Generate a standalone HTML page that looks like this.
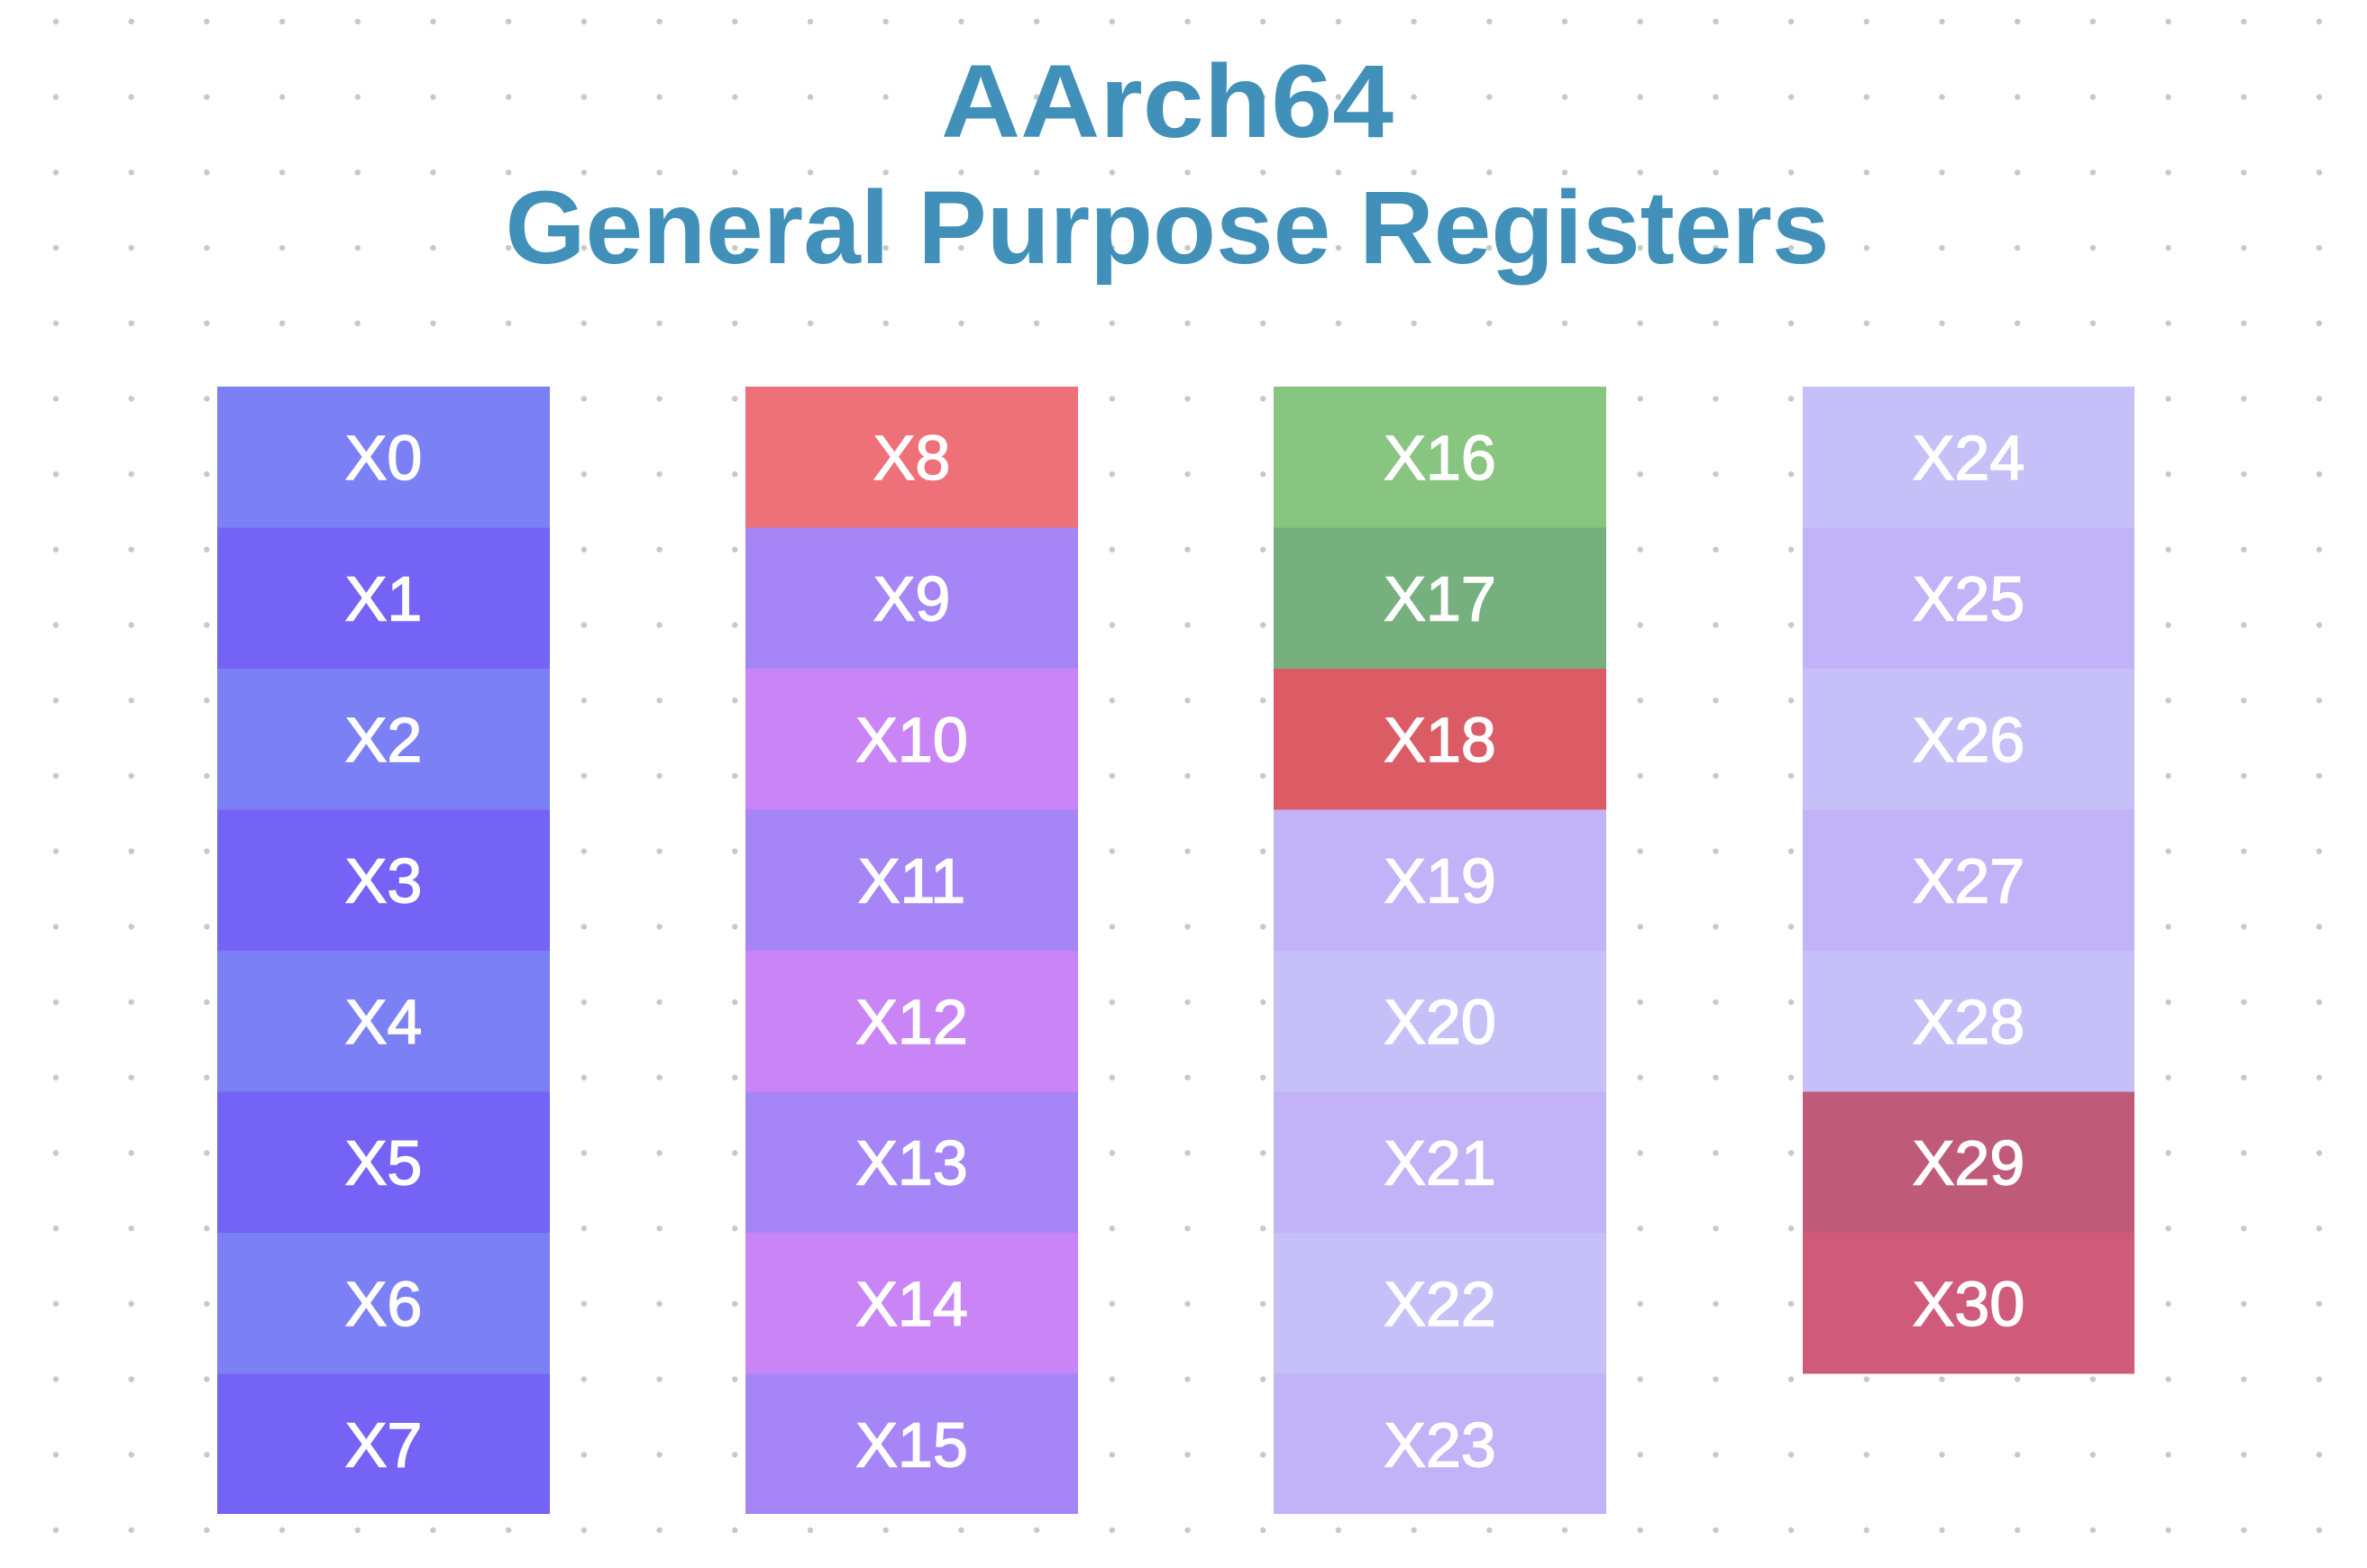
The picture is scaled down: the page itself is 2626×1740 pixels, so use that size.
<!DOCTYPE html>
<html><head><meta charset="utf-8"><style>
html,body{margin:0;padding:0;background:#fff;}
svg{display:block;}
</style></head><body>
<svg width="2626" height="1740" viewBox="0 0 2626 1740" xmlns="http://www.w3.org/2000/svg">
<defs>
<pattern id="dots" x="0" y="0" width="83.7" height="83.7" patternUnits="userSpaceOnUse" patternTransform="translate(62 24)">
<circle cx="0" cy="0" r="3.2" fill="#c8c8c8"/>
<circle cx="83.7" cy="0" r="3.2" fill="#c8c8c8"/>
<circle cx="0" cy="83.7" r="3.2" fill="#c8c8c8"/>
<circle cx="83.7" cy="83.7" r="3.2" fill="#c8c8c8"/>
</pattern>
</defs>
<rect width="2626" height="1740" fill="url(#dots)"/>
<g font-family="Liberation Sans, sans-serif" font-weight="bold" fill="#4190b9" text-anchor="middle">
<text x="1295" y="152" font-size="115" textLength="502" lengthAdjust="spacingAndGlyphs">AArch64</text>
<text x="1295" y="292" font-size="115" textLength="1469" lengthAdjust="spacingAndGlyphs">General Purpose Registers</text>
</g>
<g>
<rect x="241" y="429" width="369" height="157" fill="#7b80f4"/>
<rect x="241" y="585.5" width="369" height="157" fill="#7463f4"/>
<rect x="241" y="742" width="369" height="157" fill="#7b80f4"/>
<rect x="241" y="898.5" width="369" height="157" fill="#7463f4"/>
<rect x="241" y="1055" width="369" height="157" fill="#7b80f4"/>
<rect x="241" y="1211.5" width="369" height="157" fill="#7463f4"/>
<rect x="241" y="1368" width="369" height="157" fill="#7b80f4"/>
<rect x="241" y="1524.5" width="369" height="155.5" fill="#7463f4"/>
</g>
<g>
<rect x="827" y="429" width="369" height="157" fill="#ee717a"/>
<rect x="827" y="585.5" width="369" height="157" fill="#a685f7"/>
<rect x="827" y="742" width="369" height="157" fill="#c985f6"/>
<rect x="827" y="898.5" width="369" height="157" fill="#a685f7"/>
<rect x="827" y="1055" width="369" height="157" fill="#c985f6"/>
<rect x="827" y="1211.5" width="369" height="157" fill="#a685f7"/>
<rect x="827" y="1368" width="369" height="157" fill="#c985f6"/>
<rect x="827" y="1524.5" width="369" height="155.5" fill="#a685f7"/>
</g>
<g>
<rect x="1413" y="429" width="369" height="157" fill="#88c580"/>
<rect x="1413" y="585.5" width="369" height="157" fill="#77b07f"/>
<rect x="1413" y="742" width="369" height="157" fill="#dc5c66"/>
<rect x="1413" y="898.5" width="369" height="157" fill="#c2b2f7"/>
<rect x="1413" y="1055" width="369" height="157" fill="#c6c0f9"/>
<rect x="1413" y="1211.5" width="369" height="157" fill="#c2b2f7"/>
<rect x="1413" y="1368" width="369" height="157" fill="#c6c0f9"/>
<rect x="1413" y="1524.5" width="369" height="155.5" fill="#c2b2f7"/>
</g>
<g>
<rect x="2000" y="429" width="368" height="157" fill="#c6c0f9"/>
<rect x="2000" y="585.5" width="368" height="157" fill="#c2b2f7"/>
<rect x="2000" y="742" width="368" height="157" fill="#c6c0f9"/>
<rect x="2000" y="898.5" width="368" height="157" fill="#c2b2f7"/>
<rect x="2000" y="1055" width="368" height="157" fill="#c6c0f9"/>
<rect x="2000" y="1211.5" width="368" height="157" fill="#bf5b79"/>
<rect x="2000" y="1368" width="368" height="156.5" fill="#d05a79"/>
</g>
<g font-family="Liberation Sans, sans-serif" font-size="70" fill="#fff" stroke="#fff" stroke-width="1.5" text-anchor="middle">
<text x="425.5" y="532">X0</text>
<text x="425.5" y="688.5">X1</text>
<text x="425.5" y="845">X2</text>
<text x="425.5" y="1001.5">X3</text>
<text x="425.5" y="1158">X4</text>
<text x="425.5" y="1314.5">X5</text>
<text x="425.5" y="1471">X6</text>
<text x="425.5" y="1627.5">X7</text>
<text x="1011.5" y="532">X8</text>
<text x="1011.5" y="688.5">X9</text>
<text x="1011.5" y="845">X10</text>
<text x="1011.5" y="1001.5">X11</text>
<text x="1011.5" y="1158">X12</text>
<text x="1011.5" y="1314.5">X13</text>
<text x="1011.5" y="1471">X14</text>
<text x="1011.5" y="1627.5">X15</text>
<text x="1597.5" y="532">X16</text>
<text x="1597.5" y="688.5">X17</text>
<text x="1597.5" y="845">X18</text>
<text x="1597.5" y="1001.5">X19</text>
<text x="1597.5" y="1158">X20</text>
<text x="1597.5" y="1314.5">X21</text>
<text x="1597.5" y="1471">X22</text>
<text x="1597.5" y="1627.5">X23</text>
<text x="2184" y="532">X24</text>
<text x="2184" y="688.5">X25</text>
<text x="2184" y="845">X26</text>
<text x="2184" y="1001.5">X27</text>
<text x="2184" y="1158">X28</text>
<text x="2184" y="1314.5">X29</text>
<text x="2184" y="1471">X30</text>
</g>
</svg>
</body></html>
